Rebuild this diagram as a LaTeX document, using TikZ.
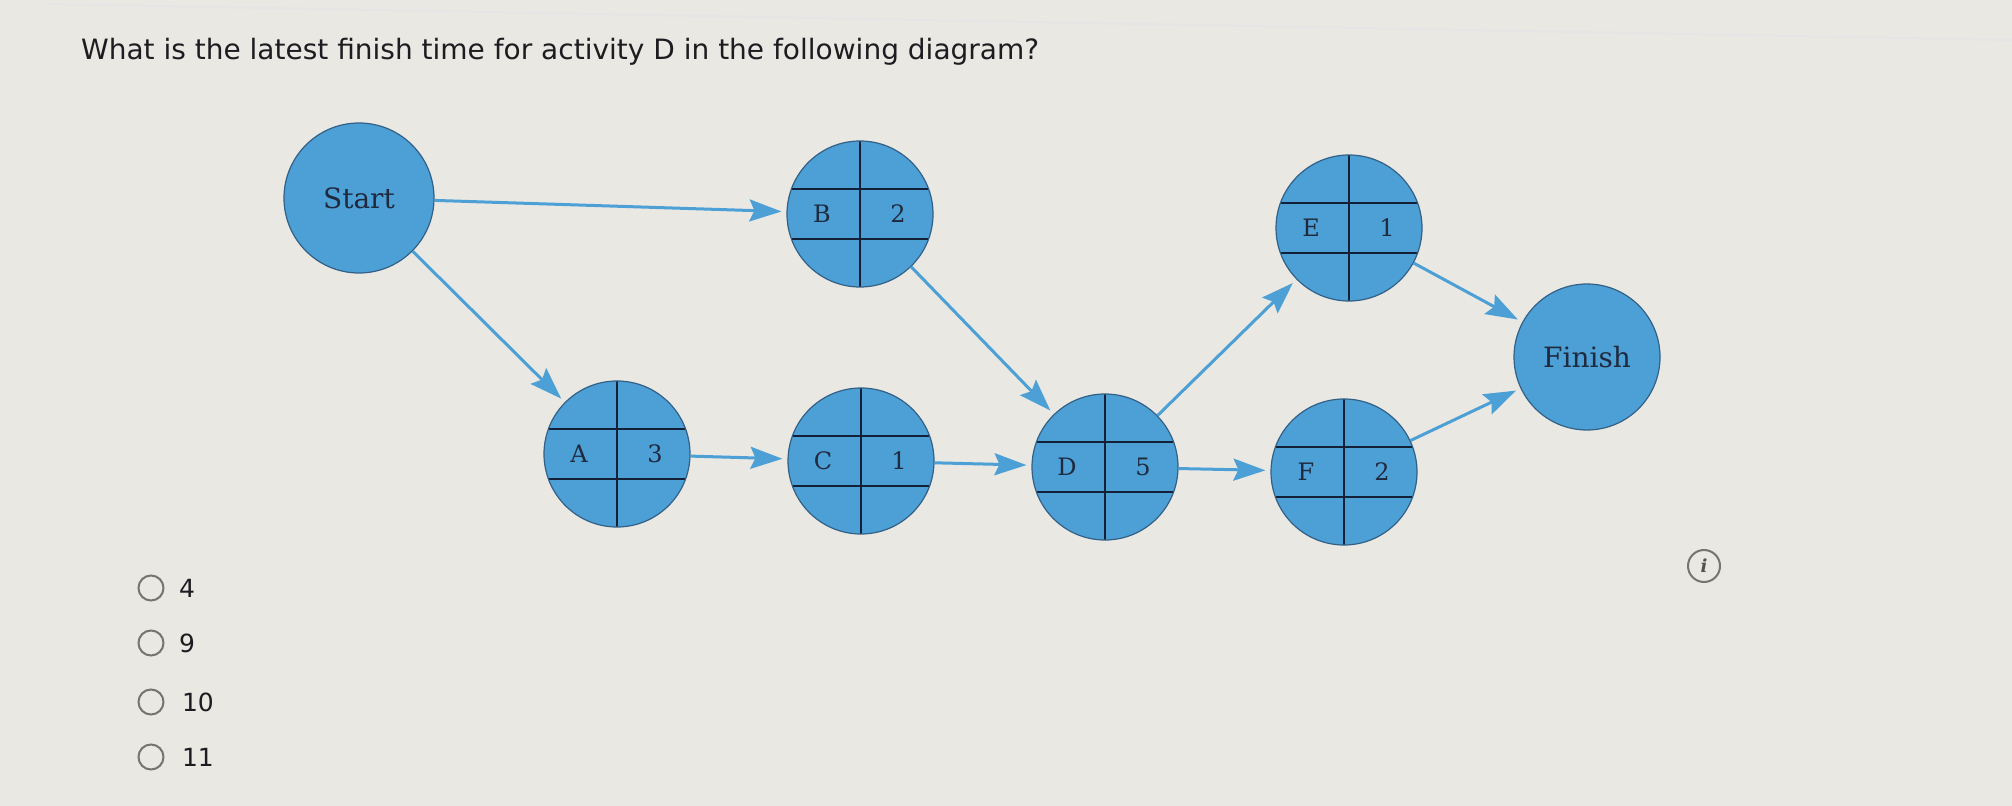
\documentclass[tikz,border=0pt]{standalone}
\usepackage{fontspec}
\setmainfont{DejaVu Serif}
\newfontfamily\quizfont{DejaVu Sans}
\usetikzlibrary{arrows.meta}

\definecolor{nodeblue}{RGB}{76,160,214}
\definecolor{nodeedge}{RGB}{50,96,134}
\definecolor{gridnavy}{RGB}{20,32,56}
\definecolor{labelnavy}{RGB}{32,42,62}
\definecolor{screengray}{RGB}{234,232,227}
\definecolor{radiogray}{RGB}{118,116,113}
\definecolor{quiztext}{RGB}{30,28,32}

\newcommand{\actcells}[2]{\makebox[30pt]{#1}\hspace{8pt}\makebox[30pt]{#2}}

\tikzset{
  event/.style={circle, fill=nodeblue, draw=nodeedge, line width=0.6pt,
    minimum size=75pt, inner sep=0pt, text=labelnavy,
    font=\fontsize{14}{16}\selectfont},
  activity/.style={event, minimum size=73pt,
    font=\fontsize{12}{14}\selectfont,
    path picture={
      \draw[gridnavy, line width=1.4pt]
        (path picture bounding box.north) -- (path picture bounding box.south)
        ([yshift=12.5pt]path picture bounding box.west) -- ([yshift=12.5pt]path picture bounding box.east)
        ([yshift=-12.5pt]path picture bounding box.west) -- ([yshift=-12.5pt]path picture bounding box.east);
    }},
  flow/.style={nodeblue, line width=1.5pt, shorten >=2.5pt},
  radio/.style={circle, draw=radiogray, line width=1pt, minimum size=12.5pt, inner sep=0pt},
  answer/.style={anchor=west, text=quiztext, font=\quizfont\fontsize{12.5}{14}\selectfont}
}

\begin{document}
\begin{tikzpicture}[x=0.5pt, y=-0.5pt, >={Stealth[length=16pt,width=11pt,inset=2.5pt]}]
  \useasboundingbox (0,0) rectangle (2012,806);
  \fill[screengray] (0,0) rectangle (2012,806);
  \draw[black!10, line width=1pt] (49,4) -- (2012,40);

  \node[anchor=west, text=quiztext, font=\quizfont\fontsize{14}{16}\selectfont] (question) at (74,52)
    {What is the latest finish time for activity D in the following diagram?};

  \node[event] (start) at (359,198) {Start};
  \node[activity] (b) at (860,214) {\actcells{B}{2}};
  \node[activity] (a) at (617,454) {\actcells{A}{3}};
  \node[activity] (c) at (861,461) {\actcells{C}{1}};
  \node[activity] (d) at (1105,467) {\actcells{D}{5}};
  \node[activity] (e) at (1349,228) {\actcells{E}{1}};
  \node[activity] (f) at (1344,472) {\actcells{F}{2}};
  \node[event, minimum size=73pt] (finish) at (1587,357) {Finish};

  \path[->, flow]
  (start) edge (b)
          edge (a)
  (a) edge (c)
  (b) edge (d)
  (c) edge (d)
  (d) edge (e)
      edge (f)
  (e) edge (finish)
  (f) edge (finish);

  \node[radio] (opt4) at (151,588) {};
  \node[answer] (ans4) at (172,588) {4};
  \node[radio] (opt9) at (151,643) {};
  \node[answer] (ans9) at (172,643) {9};
  \node[radio] (opt10) at (151,702) {};
  \node[answer] (ans10) at (175,702) {10};
  \node[radio] (opt11) at (151,757) {};
  \node[answer] (ans11) at (175,757) {11};

  \node[circle, draw=radiogray, line width=1pt, minimum size=16pt, inner sep=0pt,
    text=radiogray!70!black, font=\bfseries\itshape\small] (info) at (1704,566) {i};
\end{tikzpicture}
\end{document}
